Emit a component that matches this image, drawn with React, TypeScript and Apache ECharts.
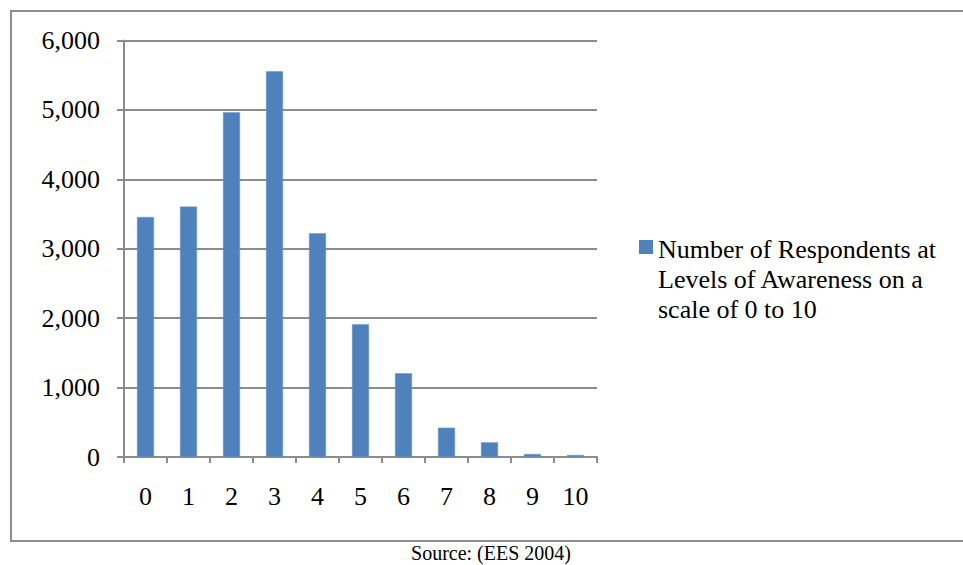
import React, { useEffect, useRef } from "react";
import * as echarts from "echarts";

const categories = ["0", "1", "2", "3", "4", "5", "6", "7", "8", "9", "10"];
const respondents = [3458, 3607, 4967, 5557, 3223, 1912, 1206, 422, 212, 43, 29];
const seriesName = "Number of Respondents at Levels of Awareness on a scale of 0 to 10";
const legendLines = ["Number of Respondents at", "Levels of Awareness on a", "scale of 0 to 10"];
const sourceNote = "Source: (EES 2004)";

const FONT = '"Liberation Serif", "Times New Roman", serif';

export default function App() {
  const ref = useRef<HTMLDivElement>(null);
  useEffect(() => {
    if (!ref.current) return;
    const chart = echarts.init(ref.current, undefined, { renderer: "svg" });
    chart.setOption({
      animation: false,
      backgroundColor: "#ffffff",
      grid: { left: 124, right: 366, top: 40.5, bottom: 108, containLabel: false },
      xAxis: {
        type: "category",
        data: categories,
        boundaryGap: true,
        axisLine: { show: true, lineStyle: { color: "#8c8c8c", width: 2 } },
        axisTick: { show: true, length: 6, lineStyle: { color: "#8c8c8c", width: 2 } },
        axisLabel: { color: "#000", fontFamily: FONT, fontSize: 26, margin: 26 },
        splitLine: { show: false },
      },
      yAxis: {
        type: "value",
        min: 0,
        max: 6000,
        interval: 1000,
        axisLine: { show: true, lineStyle: { color: "#8c8c8c", width: 2 } },
        axisTick: { show: true, length: 7, lineStyle: { color: "#8c8c8c", width: 2 } },
        axisLabel: {
          color: "#000",
          fontFamily: FONT,
          fontSize: 26,
          margin: 24,
          formatter: (v: number) => v.toLocaleString("en-US"),
        },
        splitLine: { show: true, lineStyle: { color: "#8c8c8c", width: 2 } },
      },
      legend: { show: false },
      series: [
        {
          name: seriesName,
          type: "bar",
          data: respondents,
          barWidth: 17,
          itemStyle: { color: "#4f81bd", borderColor: "#6b96c9", borderWidth: 0.5 },
        },
      ],
      graphic: [
        {
          type: "polyline",
          shape: { points: [[965, 11], [11, 11], [11, 541], [965, 541]] },
          style: { stroke: "#8c8c8c", lineWidth: 2, fill: null },
        },
        {
          type: "rect",
          shape: { x: 639, y: 240, width: 14, height: 14 },
          style: { fill: "#4f81bd" },
        },
        {
          type: "text",
          x: 658,
          y: 234,
          style: {
            text: legendLines.join("\n"),
            font: `26px ${FONT}`,
            fill: "#000",
            lineHeight: 30,
            verticalAlign: "top",
            align: "left",
          },
        },
        {
          type: "text",
          x: 491,
          y: 553,
          style: {
            text: sourceNote,
            font: `20px ${FONT}`,
            fill: "#000",
            verticalAlign: "middle",
            align: "center",
          },
        },
      ],
    });
    return () => chart.dispose();
  }, []);
  return (
    <div
      ref={ref}
      style={{ position: "fixed", left: 0, top: 0, width: 963, height: 565 }}
    />
  );
}
